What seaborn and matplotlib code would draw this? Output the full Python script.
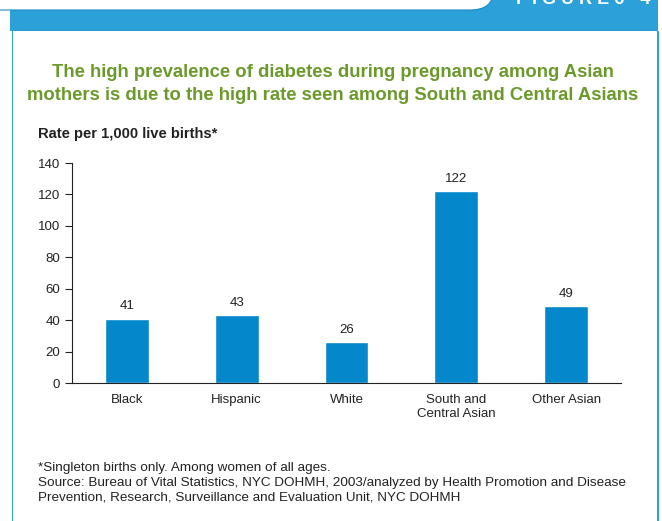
import matplotlib
matplotlib.use("Agg")
import matplotlib.pyplot as plt
import seaborn as sns
import pandas as pd
from matplotlib.patches import Rectangle, FancyBboxPatch
from matplotlib.ticker import FixedLocator

groups = ["Black", "Hispanic", "White", "South and\nCentral Asian", "Other Asian"]
rates = [41, 43, 26, 122, 49]
yticks = [0, 20, 40, 60, 80, 100, 120, 140]

title = ("The high prevalence of diabetes during pregnancy among Asian\n"
         "mothers is due to the high rate seen among South and Central Asians")
ylab = "Rate per 1,000 live births*"
note = ("*Singleton births only. Among women of all ages.\n"
        "Source: Bureau of Vital Statistics, NYC DOHMH, 2003/analyzed by Health Promotion and Disease\n"
        "Prevention, Research, Surveillance and Evaluation Unit, NYC DOHMH")

BLUE = "#2ca0d8"
BAR = "#0587cc"
GREEN = "#6b9a2b"
W, H = 662, 521

sns.set_style("white")
plt.rcParams["font.family"] = ["Liberation Sans", "DejaVu Sans"]

df = pd.DataFrame({"group": groups, "rate": rates})

fig = plt.figure(figsize=(W / 100, H / 100), dpi=100)

def fx(x):
    return x / W

def fy(y):
    return 1 - y / H

def fit_width(t, target):
    # shrink/grow a text so it spans roughly the width seen in the reference
    r = fig.canvas.get_renderer()
    w = t.get_window_extent(renderer=r).width
    t.set_fontsize(t.get_fontsize() * target / w)

# header band and frame
fig.patches.append(Rectangle((fx(10), fy(31)), fx(648), 31 / H, transform=fig.transFigure,
                             facecolor=BLUE, edgecolor="none", zorder=0))
fig.patches.append(FancyBboxPatch((fx(-40), fy(10)), fx(533), 40 / H,
                                  boxstyle="round,pad=0,rounding_size=0.035",
                                  transform=fig.transFigure, facecolor="white",
                                  edgecolor="#1c8cc8", linewidth=0.8, zorder=1))
fig.patches.append(Rectangle((fx(11.5), 0), fx(1.6), fy(31), transform=fig.transFigure,
                             facecolor=BLUE, edgecolor="none", zorder=1))
fig.patches.append(Rectangle((fx(657), 0), fx(1.6), fy(31), transform=fig.transFigure,
                             facecolor=BLUE, edgecolor="none", zorder=1))
# tab label, cut by the top edge as in the printed page
fig.text(fx(516), fy(4.5), "F I G U R E 6 - 4", color="white", fontsize=13,
         fontweight="bold", ha="left", va="baseline")

t1 = fig.text(fx(333), fy(84), title, color=GREEN, fontsize=14, fontweight="bold",
              ha="center", va="center", linespacing=1.4)
fit_width(t1, 616)
t2 = fig.text(fx(38), fy(134), ylab, color="#222222", fontsize=11, fontweight="bold",
              ha="left", va="center")
fit_width(t2, 180)
fig.text(fx(38), fy(483), note, color="#222222", fontsize=9.7, ha="left", va="center",
         linespacing=1.3)

ax = fig.add_axes([fx(72), fy(383), fx(621 - 72), (383 - 163) / H])
sns.barplot(data=df, x="group", y="rate", color=BAR, width=0.4, saturation=1, ax=ax)

for i, v in enumerate(rates):
    ax.text(i, v + 4, str(v), ha="center", va="bottom", fontsize=9.5, color="#222222")

ax.set_xlim(-0.5, len(groups) - 0.5)
ax.set_ylim(0, 140)
ax.set_yticks(yticks)
ax.set_xlabel("")
ax.set_ylabel("")
ax.xaxis.set_minor_locator(FixedLocator([i + 0.5 for i in range(len(groups))]))
ax.tick_params(axis="x", which="major", length=0, pad=8, labelsize=9.5, labelcolor="#222222")
ax.tick_params(axis="x", which="minor", length=4, width=0.8, direction="out", color="#222222")
ax.tick_params(axis="y", length=5, width=0.8, direction="out", color="#222222",
               labelsize=9.5, labelcolor="#222222", left=True)
sns.despine(ax=ax)
for s in ["left", "bottom"]:
    ax.spines[s].set_color("#222222")
    ax.spines[s].set_linewidth(0.8)
ax.set_facecolor("none")

fig.savefig("out.png", dpi=100)
